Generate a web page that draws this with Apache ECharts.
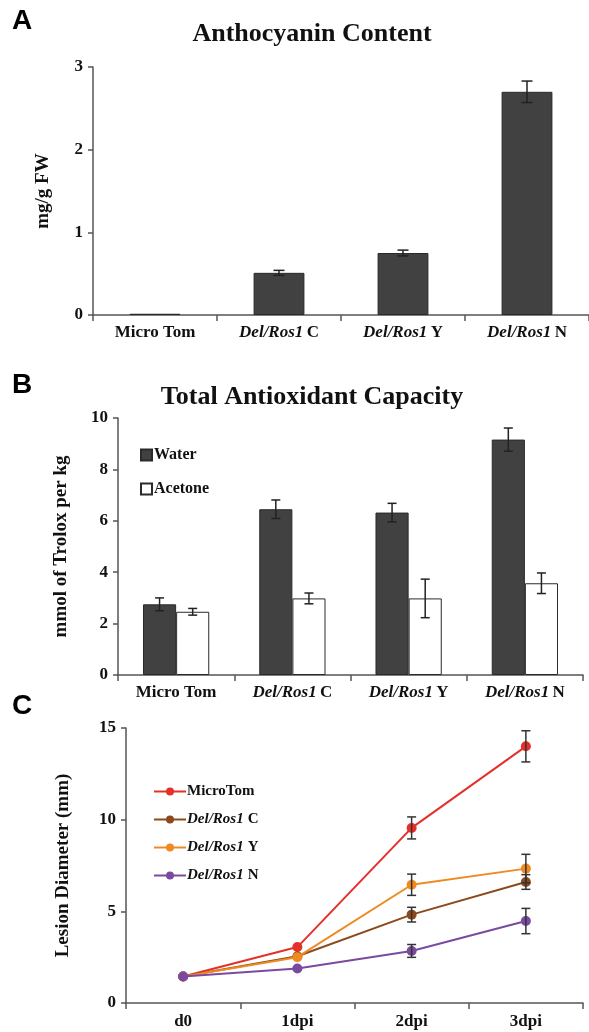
<!DOCTYPE html>
<html><head><meta charset="utf-8">
<script src="https://cdn.jsdelivr.net/npm/echarts@6/dist/echarts.min.js"></script>
<style>html,body{margin:0;padding:0;background:#fff}#c{width:589px;height:1032px}</style>
</head><body><div id="c"></div>
<script>
// ---- data ----
const categories = ['Micro Tom', 'Del/Ros1 C', 'Del/Ros1 Y', 'Del/Ros1 N'];
const anthocyanin = [0.015, 0.51, 0.75, 2.70];
const anthocyaninErr = [0, 0.03, 0.035, 0.13];
const water = [2.75, 6.45, 6.32, 9.16];
const waterErr = [0.25, 0.36, 0.36, 0.45];
const acetone = [2.46, 2.98, 2.98, 3.57];
const acetoneErr = [0.13, 0.21, 0.75, 0.40];
const days = ['d0', '1dpi', '2dpi', '3dpi'];
const microTom = [1.45, 3.05, 9.55, 14.0];
const microTomErr = [0, 0, 0.6, 0.85];
const delC = [1.45, 2.55, 4.82, 6.6];
const delCErr = [0, 0, 0.4, 0.4];
const delY = [1.45, 2.5, 6.45, 7.33];
const delYErr = [0, 0, 0.58, 0.78];
const delN = [1.45, 1.88, 2.84, 4.47];
const delNErr = [0, 0, 0.35, 0.69];
const lineNames = ['MicroTom', 'Del/Ros1 C', 'Del/Ros1 Y', 'Del/Ros1 N'];
const lineColors = ['#e5302a', '#8c4a1c', '#ef8a22', '#7a4aa0'];

const SERIF = '"Liberation Serif", "Times New Roman", serif';
const SANS = '"Liberation Sans", Arial, sans-serif';
const ink = '#111';
const axisCol = '#555';

function richName(v) {
  const m = /^(Del\/Ros1)\s(.+)$/.exec(v);
  return m ? '{i|' + m[1] + '} {b|' + m[2] + '}' : '{b|' + v + '}';
}
function rich(size) {
  return {
    i: {fontFamily: SERIF, fontWeight: 'bold', fontStyle: 'italic', fontSize: size, color: ink},
    b: {fontFamily: SERIF, fontWeight: 'bold', fontSize: size, color: ink}
  };
}

function xCat(gi, data, margin) {
  return {
    type: 'category', gridIndex: gi, data: data, boundaryGap: true,
    axisLine: {lineStyle: {color: axisCol, width: 1.5}},
    axisTick: {show: true, length: 6, lineStyle: {color: axisCol, width: 1.5}},
    axisLabel: {interval: 0, margin: margin, formatter: richName, rich: rich(17)},
    splitLine: {show: false}
  };
}
function yVal(gi, max, interval, name, gap) {
  return {
    type: 'value', gridIndex: gi, min: 0, max: max, interval: interval,
    name: name, nameLocation: 'middle', nameGap: gap, nameRotate: 90,
    nameTextStyle: {fontFamily: SERIF, fontWeight: 'bold', fontSize: 19, color: ink},
    axisLine: {show: true, lineStyle: {color: axisCol, width: 1.5}},
    axisTick: {show: true, length: 5, lineStyle: {color: axisCol, width: 1.5}},
    axisLabel: {margin: 10, fontFamily: SERIF, fontWeight: 'bold', fontSize: 17, color: ink},
    splitLine: {show: false}
  };
}

function errSeries(gi, vals, errs, offsetFrac, cap, color, width) {
  return {
    type: 'custom', xAxisIndex: gi, yAxisIndex: gi, silent: true, z: 20,
    encode: {x: 0, y: 1},
    data: vals.map((v, i) => [i, v, errs[i]]),
    renderItem: function (params, api) {
      const i = api.value(0), v = api.value(1), e = api.value(2);
      if (!e) return;
      const band = api.size([1, 0])[0];
      const x = api.coord([i, v])[0] + band * offsetFrac;
      const top = api.coord([i, v + e])[1];
      const bot = api.coord([i, v - e])[1];
      const st = {stroke: color, lineWidth: width};
      return {type: 'group', children: [
        {type: 'line', shape: {x1: x, y1: top, x2: x, y2: bot}, style: st},
        {type: 'line', shape: {x1: x - cap / 2, y1: top, x2: x + cap / 2, y2: top}, style: st},
        {type: 'line', shape: {x1: x - cap / 2, y1: bot, x2: x + cap / 2, y2: bot}, style: st}
      ]};
    }
  };
}

const barStyleDark = {color: '#414141', borderColor: '#2a2a2a', borderWidth: 1};
const barStyleWhite = {color: '#ffffff', borderColor: '#2a2a2a', borderWidth: 1};

const lineSeries = [microTom, delC, delY, delN].map((d, k) => ({
  type: 'line', name: lineNames[k], xAxisIndex: 2, yAxisIndex: 2, data: d,
  symbol: 'circle', symbolSize: 10, color: lineColors[k],
  lineStyle: {width: 2, color: lineColors[k]},
  itemStyle: {color: lineColors[k]}, z: 5 + k
}));
const lineErrs = [microTomErr, delCErr, delYErr, delNErr].map((e, k) =>
  errSeries(2, [microTom, delC, delY, delN][k], e, 0, 9, '#333', 1.5));

const option = {
  animation: false,
  backgroundColor: '#fff',
  graphic: [
    {type: 'text', x: 12, y: 21, style: {text: 'A', font: 'bold 28px ' + SANS, fill: '#000', textVerticalAlign: 'middle'}},
    {type: 'text', x: 12, y: 385, style: {text: 'B', font: 'bold 28px ' + SANS, fill: '#000', textVerticalAlign: 'middle'}},
    {type: 'text', x: 12, y: 706, style: {text: 'C', font: 'bold 28px ' + SANS, fill: '#000', textVerticalAlign: 'middle'}},
    {type: 'text', x: 312, y: 34, style: {text: 'Anthocyanin Content', font: 'bold 26px ' + SERIF, fill: ink, textAlign: 'center', textVerticalAlign: 'middle'}},
    {type: 'text', x: 312, y: 397, style: {text: 'Total Antioxidant Capacity', font: 'bold 26px ' + SERIF, fill: ink, textAlign: 'center', textVerticalAlign: 'middle'}}
  ],
  grid: [
    {left: 93, top: 67, width: 496, height: 248},
    {left: 118, top: 418, width: 465, height: 257},
    {left: 126, top: 728, width: 457, height: 275}
  ],
  xAxis: [xCat(0, categories, 9), xCat(1, categories, 9), xCat(2, days, 10)],
  yAxis: [
    yVal(0, 3, 1, 'mg/g FW', 40),
    yVal(1, 10, 2, 'mmol of Trolox per kg', 47),
    yVal(2, 15, 5, 'Lesion Diameter (mm)', 53)
  ],
  legend: [
    {data: ['Water', 'Acetone'], orient: 'vertical', left: 135, top: 442, itemWidth: 11, itemHeight: 11, itemGap: 18,
     icon: 'rect',
     textStyle: {fontFamily: SERIF, fontWeight: 'bold', fontSize: 16, color: ink, padding: [0, 0, 0, -3]}},
    {data: lineNames, orient: 'vertical', left: 148, top: 779, itemWidth: 32, itemHeight: 10, itemGap: 13,
     formatter: richName,
     textStyle: {color: ink, fontSize: 15, rich: rich(15), padding: [0, 0, 0, -4]}}
  ],
  series: [
    {type: 'bar', name: 'Anthocyanin', xAxisIndex: 0, yAxisIndex: 0, data: anthocyanin, barWidth: '41%', itemStyle: barStyleDark},
    errSeries(0, anthocyanin, anthocyaninErr, 0, 11, '#222', 1.5),
    {type: 'bar', name: 'Water', xAxisIndex: 1, yAxisIndex: 1, data: water, barWidth: '28.5%', barGap: '0%', itemStyle: barStyleDark},
    {type: 'bar', name: 'Acetone', xAxisIndex: 1, yAxisIndex: 1, data: acetone, barWidth: '28.5%', barGap: '0%', itemStyle: barStyleWhite},
    errSeries(1, water, waterErr, -0.1425, 9, '#222', 1.5),
    errSeries(1, acetone, acetoneErr, 0.1425, 9, '#222', 1.5)
  ].concat(lineSeries, lineErrs)
};

const chart = echarts.init(document.getElementById('c'), null, {renderer: 'canvas'});
chart.setOption(option);
</script>
</body></html>
